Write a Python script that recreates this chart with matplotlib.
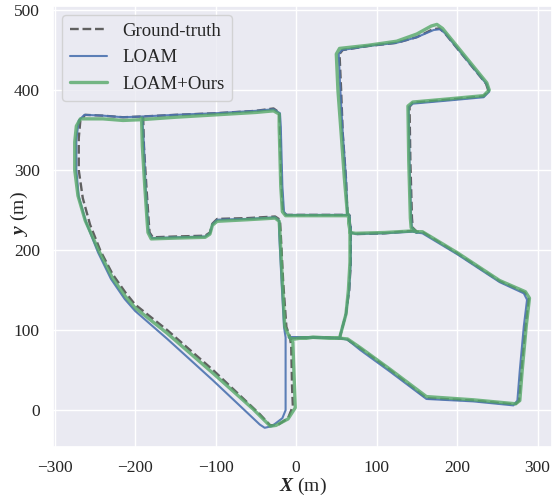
import matplotlib
matplotlib.use("Agg")
import matplotlib.pyplot as plt
import seaborn as sns

# trajectory waypoints (metres)
gt_x = [-190, -189, -186, -183, -182, -178,
        -150, -113, -107, -104, -98, -60, -26, -20,
        -19, -16, -12, -8,
        -6, -5, -4, -10, -22, -32,
        -45, -103, -160, -200, -212, -228, -243, -256, -265, -270, -270, -268, -262,
        -240, -215, -190,
        -150, -100, -50, -28, -21,
        -20, -18, -16, -12,
        20, 50, 64,
        62, 58, 56, 54, 58,
        90, 125, 150, 170, 178, 184,
        236, 239, 233,
        190, 145, 141,
        142, 144, 145, 150,
        158, 200, 253, 284, 289,
        285, 280, 277, 272,
        220, 162,
        117, 80, 64, 54,
        21, -7, 21, 54,
        62, 66, 68, 68, 66,
        68, 74,
        110, 145, 150]
gt_y = [367, 330, 280, 235, 222, 216,
        217, 218, 222, 233, 239, 240, 242, 238,
        220, 160, 104, 93,
        80, 30, 5, -10, -18, -19,
        -5, 50, 100, 132, 147, 170, 199, 232, 265, 300, 340, 362, 369,
        368, 366, 367,
        369, 371, 374, 377, 372,
        355, 280, 248, 244,
        244, 244, 244,
        290, 346, 400, 445, 450,
        455, 459, 466, 476, 477, 472,
        408, 399, 392,
        388, 384, 379,
        312, 240, 228, 223,
        222, 196, 161, 147, 139,
        105, 50, 12, 7,
        12, 15,
        50, 77, 88, 90,
        91, 90, 91, 90,
        120, 150, 185, 222, 244,
        222, 220,
        221, 224, 223]

loam_x = [-191, -189, -187, -184, -183, -179,
          -150, -113, -107, -104, -98, -60, -26, -21,
          -21, -18, -15, -13,
          -13, -13, -13, -17, -30, -39,
          -45, -103, -160, -200, -213, -230, -246, -261, -270, -273, -273, -270, -263,
          -240, -215, -190,
          -150, -100, -50, -28, -20,
          -19, -17, -15, -12,
          20, 50, 64,
          62, 58, 55, 53, 57,
          90, 125, 150, 171, 179, 185,
          237, 240, 233,
          190, 145, 140,
          141, 143, 144, 149,
          157, 200, 253, 283, 287,
          283, 278, 275, 270,
          220, 162,
          117, 80, 64, 54,
          21, -9, 21, 54,
          62, 66, 68, 68, 66,
          68, 74,
          110, 145, 150]
loam_y = [366, 330, 280, 235, 222, 215,
          216, 217, 221, 232, 238, 239, 241, 237,
          220, 160, 104, 91,
          80, 30, 0, -10, -20, -22,
          -18, 37, 89, 124, 139, 164, 197, 235, 267, 300, 338, 362, 369,
          368, 366, 367,
          369, 371, 374, 376, 371,
          355, 280, 248, 244,
          244, 244, 244,
          290, 346, 400, 445, 450,
          455, 459, 466, 475, 476, 471,
          407, 398, 391,
          387, 383, 379,
          312, 240, 228, 222,
          221, 195, 160, 146, 138,
          105, 50, 12, 6,
          11, 14,
          48, 75, 88, 90,
          91, 91, 91, 90,
          120, 150, 185, 222, 244,
          222, 220,
          221, 223, 222]

ours_x = [-192, -191, -188, -185, -184, -180,
          -150, -113, -107, -104, -98, -60, -26, -21,
          -20, -17, -14, -8,
          -4, -2, -1, -10, -25, -32,
          -53, -103, -160, -200, -212, -228, -245, -262, -271, -275, -275, -273, -268,
          -240, -215, -192,
          -150, -100, -50, -28, -21,
          -21, -19, -17, -13,
          20, 50, 64,
          60, 56, 52, 50, 54,
          90, 125, 150, 168, 175, 182,
          237, 240, 233,
          190, 145, 139,
          140, 142, 143, 149,
          157, 200, 253, 285, 290,
          286, 281, 278, 273,
          220, 162,
          117, 80, 64, 54,
          21, -6, 21, 54,
          62, 65, 67, 67, 65,
          67, 74,
          110, 145, 150]
ours_y = [365, 330, 280, 235, 222, 214,
          215, 216, 220, 231, 236, 238, 240, 236,
          220, 160, 104, 91,
          85, 30, 3, -11, -19, -20,
          1, 46, 96, 128, 142, 165, 199, 237, 268, 300, 335, 355, 364,
          364, 362, 363,
          366, 369, 372, 374, 370,
          355, 280, 248, 243,
          243, 243, 243,
          290, 346, 400, 445, 452,
          456, 461, 470, 480, 482, 477,
          409, 400, 393,
          389, 385, 380,
          312, 240, 228, 223,
          223, 197, 162, 148, 140,
          105, 50, 12, 8,
          13, 17,
          51, 78, 89, 90,
          91, 89, 91, 90,
          120, 150, 185, 222, 244,
          222, 221,
          222, 224, 223]


def main() -> None:
    sns.set_theme(style="darkgrid")
    plt.rcParams["font.family"] = ["Liberation Serif", "DejaVu Serif"]
    plt.rcParams["mathtext.fontset"] = "custom"
    plt.rcParams["mathtext.rm"] = "Liberation Serif"
    plt.rcParams["mathtext.it"] = "Liberation Serif:italic"
    plt.rcParams["mathtext.bf"] = "Liberation Serif:bold"
    plt.rcParams["mathtext.bfit"] = "Liberation Serif:italic:bold"

    fig = plt.figure(figsize=(5.52, 5.0), dpi=100)
    ax = fig.add_axes([53 / 552, 53 / 500, 499 / 552, 441 / 500])

    ax.plot(gt_x, gt_y, linestyle="--", color="#606060", lw=1.7,
            label="Ground-truth", zorder=2)
    ax.plot(loam_x, loam_y, color="#4C72B0", lw=1.5, alpha=0.9,
            label="LOAM", zorder=3)
    ax.plot(ours_x, ours_y, color="#55A868", lw=2.4, alpha=0.8,
            label="LOAM+Ours", zorder=4)

    ax.set_xlim(-302, 318)
    ax.set_ylim(-46, 505)
    ax.set_xticks([-300, -200, -100, 0, 100, 200, 300])
    ax.set_yticks([0, 100, 200, 300, 400, 500])
    ax.tick_params(labelsize=12.5)
    ax.set_xlabel(r"$\mathbfit{X}$ (m)", fontsize=14, labelpad=0)
    ax.set_ylabel(r"$\mathbfit{y}$ (m)", fontsize=14)
    ax.yaxis.set_label_coords(-0.046, 0.53)

    ax.legend(loc="upper left", fontsize=13.5)

    fig.savefig("out.png", dpi=100)
    plt.close(fig)


if __name__ == "__main__":
    main()
